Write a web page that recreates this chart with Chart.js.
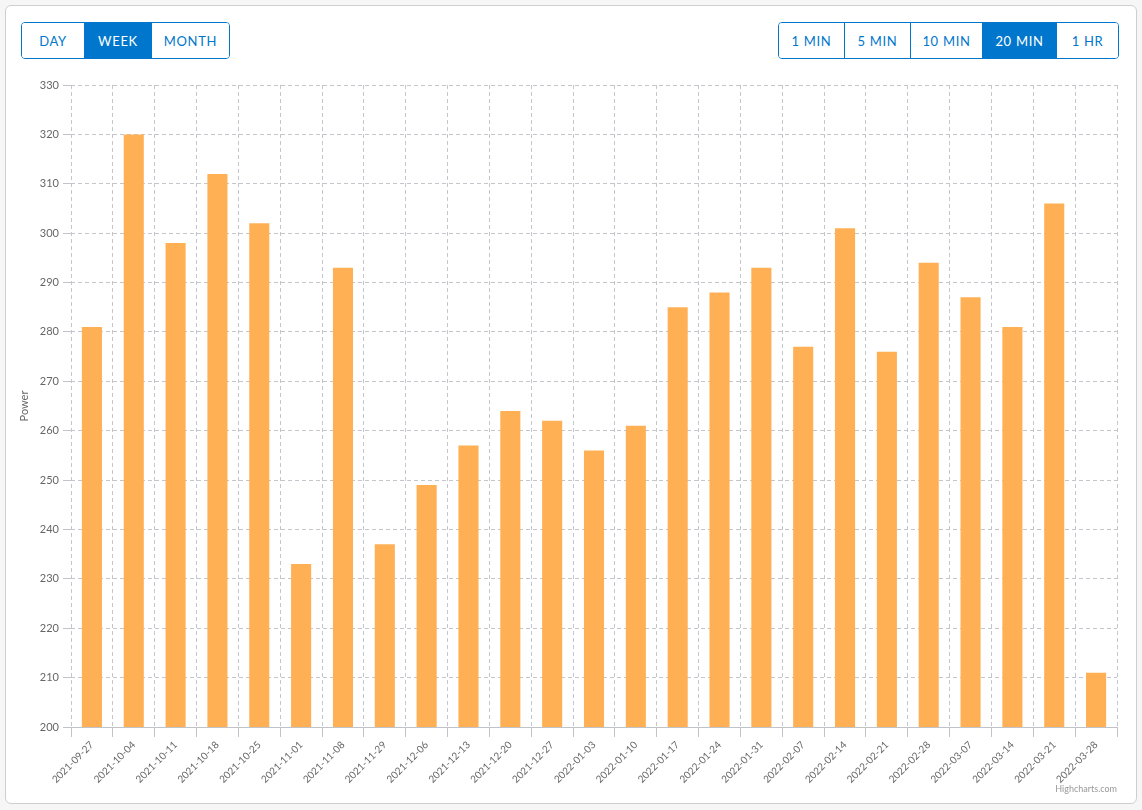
<!DOCTYPE html>
<html>
<head>
<meta charset="utf-8">
<script src="https://cdn.jsdelivr.net/npm/chart.js@4/dist/chart.umd.min.js"></script>
<style>
  html, body { margin: 0; padding: 0; background: #f6f6f6; width: 1142px; height: 810px; overflow: hidden; }
  .card { position: absolute; left: 5px; top: 5px; width: 1130px; height: 797px; background: #fff; border: 1px solid #cfcfcf; border-radius: 6px; }
  #chart { position: absolute; left: 0; top: 0; }
  .grp { position: absolute; top: 22px; height: 35px; display: flex; border: 1px solid #0077cc; border-radius: 4px; overflow: hidden; z-index: 2; }
  .grp button { border: none; border-left: 1px solid #0077cc; background: #fff; color: #0077cc; font-family: Lato, "Open Sans", sans-serif; font-size: 13px; letter-spacing: 0.7px; padding: 0; height: 35px; cursor: pointer; }
  .grp button:first-child { border-left: none; }
  .grp button.active { background: #0077cc; color: #fff; }
  .credit { position: absolute; right: 25px; top: 783px; font-family: Lato, sans-serif; font-size: 9px; color: #999; z-index: 2; }
</style>
</head>
<body>
<div class="card"></div>
<div class="grp" style="left:21px">
  <button style="width:62px">DAY</button>
  <button class="active" style="width:67px">WEEK</button>
  <button style="width:78px">MONTH</button>
</div>
<div class="grp" style="left:778px">
  <button style="width:65px">1 MIN</button>
  <button style="width:66px">5 MIN</button>
  <button style="width:72px">10 MIN</button>
  <button class="active" style="width:74px">20 MIN</button>
  <button style="width:62px">1 HR</button>
</div>
<canvas id="chart" width="1142" height="810"></canvas>
<div class="credit">Highcharts.com</div>
<script>
const semanas = ['2021-09-27','2021-10-04','2021-10-11','2021-10-18','2021-10-25','2021-11-01','2021-11-08',
  '2021-11-29','2021-12-06','2021-12-13','2021-12-20','2021-12-27','2022-01-03','2022-01-10','2022-01-17',
  '2022-01-24','2022-01-31','2022-02-07','2022-02-14','2022-02-21','2022-02-28','2022-03-07','2022-03-14',
  '2022-03-21','2022-03-28'];
const potencia = [281, 320, 298, 312, 302, 233, 293, 237, 249, 257, 264, 262, 256, 261, 285,
  288, 293, 277, 301, 276, 294, 287, 281, 306, 211];
const yMin = 200, yMax = 330, yPasso = 10;

const corGrade = '#c3c7cb';
const fonte = 'Lato, "Open Sans", sans-serif';

// linha do eixo x sólida (a grade fica tracejada)
const eixoSolido = {
  id: 'eixoSolido',
  afterDraw(chart) {
    const { ctx, chartArea } = chart;
    ctx.save();
    ctx.setLineDash([]);
    ctx.strokeStyle = '#c0c4c8';
    ctx.lineWidth = 1;
    ctx.beginPath();
    ctx.moveTo(chartArea.left, Math.round(chartArea.bottom) + 0.5);
    ctx.lineTo(chartArea.right, Math.round(chartArea.bottom) + 0.5);
    ctx.stroke();
    ctx.restore();
  }
};

new Chart(document.getElementById('chart'), {
  type: 'bar',
  data: {
    labels: semanas,
    datasets: [{ label: 'Power', data: potencia, backgroundColor: '#ffb055', barPercentage: 0.48, categoryPercentage: 1 }]
  },
  options: {
    responsive: false,
    animation: false,
    layout: { padding: { top: 85, right: 25, left: 14, bottom: 0 } },
    plugins: { legend: { display: false }, tooltip: { enabled: true } },
    scales: {
      x: {
        offset: true,
        grid: { offset: true, color: corGrade, tickLength: 10, tickBorderDash: [], tickColor: '#c0c4c8' },
        border: { display: false, dash: [4, 3] },
        ticks: { autoSkip: false, maxRotation: 45, minRotation: 45, color: '#666', font: { family: fonte, size: 10 }, padding: 2 },
        afterFit: s => { s.height = 83; }
      },
      y: {
        min: yMin, max: yMax,
        ticks: { stepSize: yPasso, color: '#666', font: { family: fonte, size: 11 }, padding: 4 },
        grid: { color: corGrade, tickLength: 8, tickBorderDash: [], tickColor: '#c0c4c8' },
        border: { display: false, dash: [4, 3] },
        title: { display: true, text: 'Power', color: '#666', font: { family: fonte, size: 11 }, padding: { top: 4, bottom: 0 } },
        afterFit: s => { s.width = 57; }
      }
    }
  },
  plugins: [eixoSolido]
});
</script>
</body>
</html>
